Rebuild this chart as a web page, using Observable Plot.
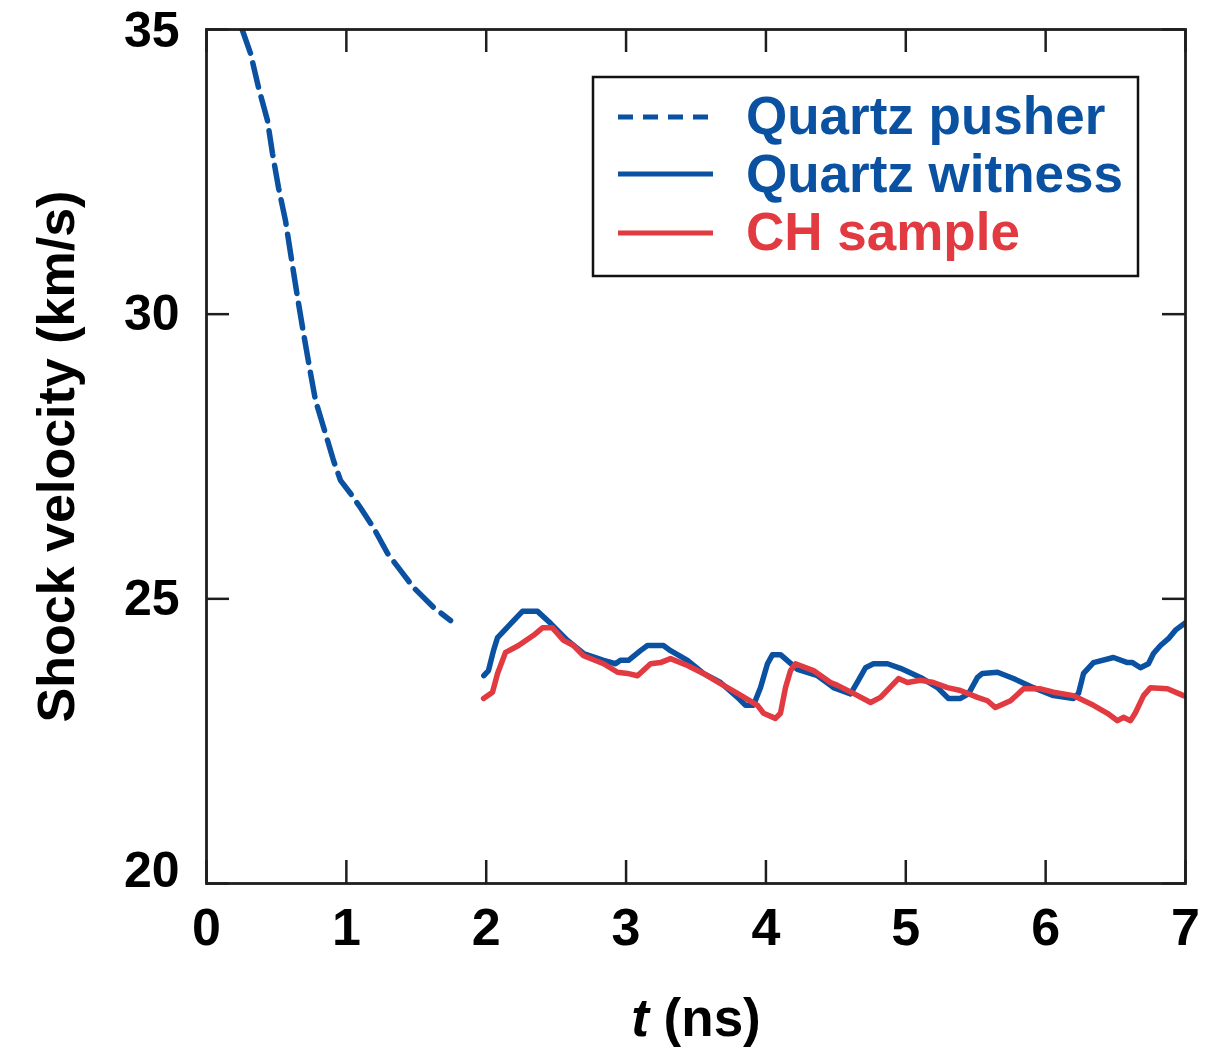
<!DOCTYPE html>
<html>
<head>
<meta charset="utf-8">
<script src="https://cdn.jsdelivr.net/npm/d3@7"></script>
<script src="https://cdn.jsdelivr.net/npm/@observablehq/plot@0.6"></script>
<style>
  html, body { margin: 0; padding: 0; background: #fff; }
  #chart { position: relative; width: 1212px; height: 1047px; }
  svg text { font-weight: bold; }
</style>
</head>
<body>
<div id="chart"></div>
<script>
// ---- Data ----
const pusherT = [0.255, 0.315, 0.372, 0.436, 0.472, 0.515, 0.565, 0.601, 0.651, 0.694, 0.744, 0.780, 0.851, 0.908, 0.958, 1.03, 1.101, 1.194, 1.294, 1.387, 1.480, 1.623, 1.745];
const pusherV = [35.0, 34.58, 33.98, 33.40, 32.82, 32.22, 31.64, 31.07, 30.29, 29.66, 28.96, 28.48, 27.90, 27.43, 27.08, 26.85, 26.60, 26.25, 25.80, 25.50, 25.20, 24.85, 24.62];

const witnessT = [1.983, 2.016, 2.052, 2.081, 2.259, 2.367, 2.460, 2.581, 2.696, 2.839, 2.924, 2.960, 3.017, 3.103, 3.153, 3.267, 3.318, 3.439, 3.553, 3.675, 3.797, 3.854, 3.911, 3.961, 4.011, 4.047, 4.104, 4.226, 4.369, 4.462, 4.483, 4.605, 4.655, 4.712, 4.769, 4.869, 4.962, 5.105, 5.227, 5.305, 5.391, 5.448, 5.513, 5.548, 5.656, 5.770, 5.913, 6.056, 6.199, 6.235, 6.271, 6.342, 6.485, 6.585, 6.621, 6.678, 6.735, 6.771, 6.821, 6.878, 6.928, 7.0];
const witnessV = [23.65, 23.74, 24.09, 24.32, 24.78, 24.78, 24.57, 24.27, 24.04, 23.92, 23.86, 23.92, 23.92, 24.09, 24.18, 24.18, 24.09, 23.92, 23.69, 23.53, 23.27, 23.13, 23.13, 23.44, 23.86, 24.02, 24.02, 23.76, 23.65, 23.48, 23.44, 23.33, 23.54, 23.79, 23.86, 23.86, 23.78, 23.62, 23.44, 23.25, 23.25, 23.33, 23.62, 23.69, 23.71, 23.60, 23.44, 23.30, 23.25, 23.34, 23.69, 23.88, 23.97, 23.88, 23.88, 23.79, 23.86, 24.04, 24.18, 24.30, 24.45, 24.58];

const chT = [1.981, 2.045, 2.081, 2.138, 2.231, 2.338, 2.402, 2.474, 2.553, 2.624, 2.696, 2.839, 2.939, 3.010, 3.082, 3.175, 3.246, 3.318, 3.439, 3.553, 3.675, 3.797, 3.940, 3.983, 4.068, 4.104, 4.140, 4.176, 4.211, 4.340, 4.462, 4.512, 4.626, 4.748, 4.819, 4.948, 5.012, 5.105, 5.198, 5.298, 5.391, 5.513, 5.584, 5.641, 5.749, 5.842, 5.963, 6.056, 6.199, 6.342, 6.442, 6.514, 6.556, 6.607, 6.642, 6.700, 6.750, 6.871, 6.986];
const chV = [23.25, 23.36, 23.69, 24.06, 24.18, 24.36, 24.49, 24.49, 24.27, 24.18, 24.00, 23.86, 23.71, 23.69, 23.65, 23.86, 23.88, 23.95, 23.83, 23.69, 23.51, 23.34, 23.13, 22.99, 22.90, 22.99, 23.44, 23.74, 23.86, 23.74, 23.53, 23.48, 23.34, 23.18, 23.27, 23.60, 23.53, 23.57, 23.53, 23.44, 23.39, 23.27, 23.21, 23.09, 23.21, 23.42, 23.42, 23.36, 23.30, 23.13, 22.99, 22.86, 22.92, 22.86, 23.00, 23.30, 23.44, 23.42, 23.30];

const xTicks = [0, 1, 2, 3, 4, 5, 6, 7];
const yTicks = [20, 25, 30, 35];
const seriesNames = ["Quartz pusher", "Quartz witness", "CH sample"];
const xLabel = "t (ns)";
const yLabel = "Shock velocity (km/s)";

// ---- Build tables ----
const zip = (T, V) => T.map((t, i) => ({t, v: V[i]}));
const pusher = zip(pusherT, pusherV);
const witness = zip(witnessT, witnessV);
const ch = zip(chT, chV);

const BLUE = "#0a51a1";
const RED = "#e23a41";
const INK = "#1e1e1e";
const FONT = "'Liberation Sans', Arial, Helvetica, sans-serif";
const W = 1212, H = 1047, ML = 206, MR = 27, MT = 29, MB = 164;
const FW = W - ML - MR, FH = H - MT - MB;
const TL = 23; // inward tick length
const fmt = d3.format("d");

const chart = Plot.plot({
  width: W, height: H,
  marginLeft: ML, marginRight: MR, marginTop: MT, marginBottom: MB,
  style: {fontFamily: FONT, background: "#fff", color: "#000"},
  x: {domain: [0, 7]},
  y: {domain: [20, 35]},
  marks: [
    Plot.line(pusher, {x: "t", y: "v", stroke: BLUE, strokeWidth: 5.5, strokeDasharray: "25,10", clip: true}),
    Plot.line(witness, {x: "t", y: "v", stroke: BLUE, strokeWidth: 5.5, clip: true}),
    Plot.line(ch, {x: "t", y: "v", stroke: RED, strokeWidth: 5.5, clip: true}),
    Plot.tickX(xTicks, {x: d => d, insetTop: FH - TL, stroke: INK, strokeWidth: 2.5}),
    Plot.tickX(xTicks, {x: d => d, insetBottom: FH - TL, stroke: INK, strokeWidth: 2.5}),
    Plot.tickY(yTicks, {y: d => d, insetRight: FW - TL, stroke: INK, strokeWidth: 2.5}),
    Plot.tickY(yTicks, {y: d => d, insetLeft: FW - TL, stroke: INK, strokeWidth: 2.5}),
    Plot.frame({stroke: INK, strokeWidth: 2.8}),
    Plot.axisX({ticks: xTicks, tickFormat: fmt, tickSize: 0, tickPadding: 25, fontSize: 52, label: null, fill: "#000"}),
    Plot.axisY({ticks: [25, 30], tickFormat: fmt, tickSize: 0, tickPadding: 27, fontSize: 50, label: null, fill: "#000"}),
    Plot.axisY({ticks: [20], tickFormat: fmt, tickSize: 0, tickPadding: 27, fontSize: 50, label: null, fill: "#000", dy: -13}),
    Plot.axisY({ticks: [35], tickFormat: fmt, tickSize: 0, tickPadding: 27, fontSize: 50, label: null, fill: "#000", dy: 1}),
    Plot.text([yLabel], {text: d => d, frameAnchor: "left", textAnchor: "middle", dx: -(ML - 73), rotate: -90, fontSize: 52, lineAnchor: "bottom", fill: "#000"}),
    Plot.text([xLabel], {text: d => d, frameAnchor: "bottom", textAnchor: "middle", dy: 152, fontSize: 53, lineAnchor: "bottom", fill: "#000"})
  ]
});

document.getElementById("chart").appendChild(chart);

// Italic "t" in the x-axis title
const svg = d3.select(chart);
svg.selectAll("text").filter(function () { return this.textContent === xLabel; }).each(function () {
  const el = d3.select(this);
  el.text(null);
  el.append("tspan").attr("font-style", "italic").text("t");
  el.append("tspan").text(" (ns)");
});

// Legend box
const lg = svg.append("g").attr("class", "legend").attr("text-anchor", "start");
lg.append("rect").attr("x", 593).attr("y", 77).attr("width", 545).attr("height", 199)
  .attr("fill", "#fff").attr("stroke", "#111").attr("stroke-width", 2.5);
const items = [
  {name: seriesNames[0], color: BLUE, dash: "15,10", ly: 117, ty: 134},
  {name: seriesNames[1], color: BLUE, dash: null, ly: 174, ty: 192},
  {name: seriesNames[2], color: RED, dash: null, ly: 233, ty: 250}
];
for (const it of items) {
  const ln = lg.append("line").attr("x1", 618).attr("x2", 713).attr("y1", it.ly).attr("y2", it.ly)
    .attr("stroke", it.color).attr("stroke-width", 5);
  if (it.dash) ln.attr("stroke-dasharray", it.dash);
  lg.append("text").attr("x", 746).attr("y", it.ty).attr("fill", it.color)
    .attr("text-anchor", "start")
    .attr("font-size", 53).attr("font-weight", "bold")
    .attr("font-family", FONT)
    .text(it.name);
}
</script>
</body>
</html>
